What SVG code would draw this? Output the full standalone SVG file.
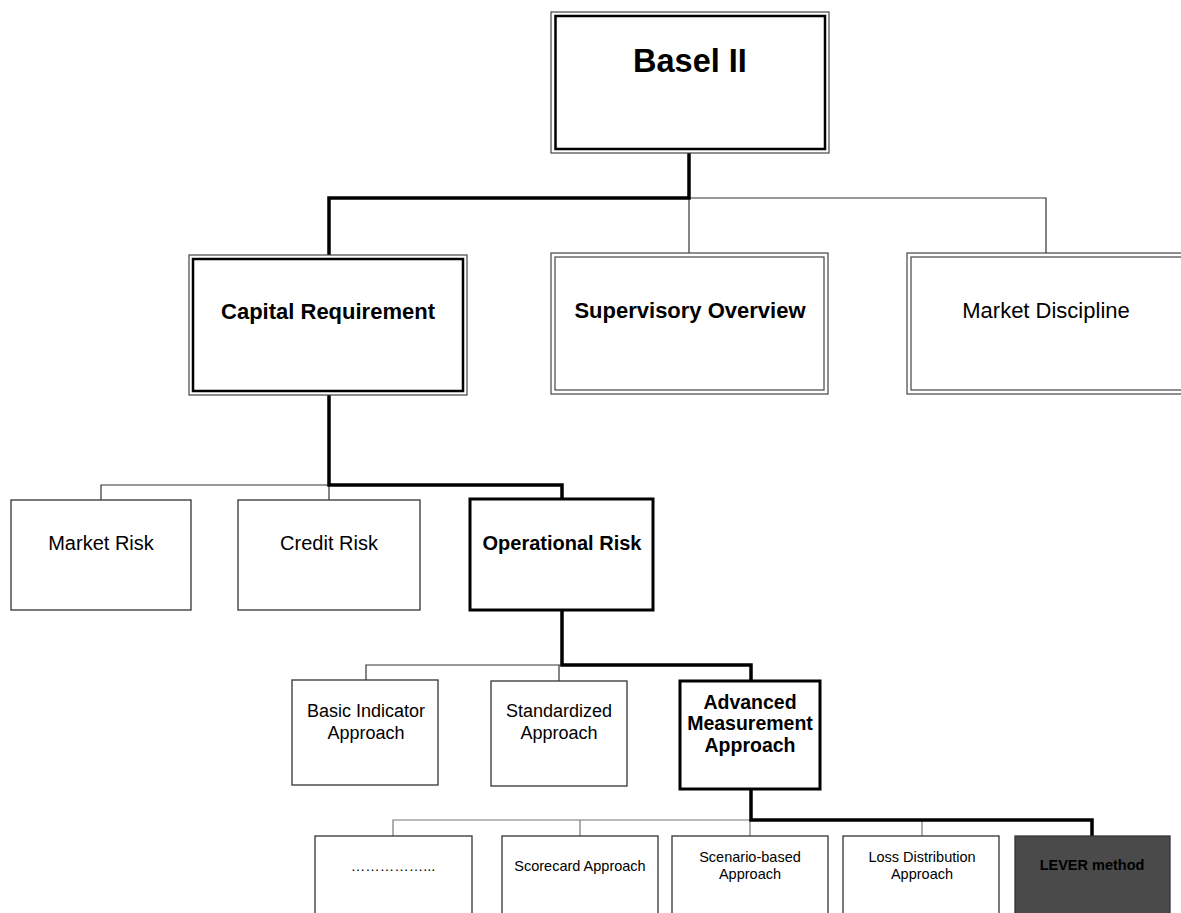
<svg xmlns="http://www.w3.org/2000/svg" width="1181" height="913" viewBox="0 0 1181 913">
<style>
text{font-family:"Liberation Sans",Arial,sans-serif;fill:#000;text-anchor:middle}
.b{font-weight:bold}
.thin{fill:#fff;stroke:#333;stroke-width:1.3}
.thick{fill:#fff;stroke:#000;stroke-width:3}
.outer{fill:#fff;stroke:#444;stroke-width:1.2}
.innerK{fill:none;stroke:#000;stroke-width:2.5}
.innerG{fill:none;stroke:#444;stroke-width:1.2}
.c1{fill:none;stroke:#000;stroke-width:3.5}
.c0{fill:none;stroke:#333;stroke-width:1.2}
.c2{fill:none;stroke:#777;stroke-width:1.2}
</style>
<rect width="1181" height="913" fill="#fff"/>
<g id="connectors">
<polyline class="c0" points="689,198 1046,198 1046,253"/>
<line class="c0" x1="689" y1="198" x2="689" y2="253"/>
<polyline class="c1" points="689,153 689,198 329,198 329,256"/>
<polyline class="c0" points="329,485 101,485 101,500"/>
<line class="c0" x1="329" y1="485" x2="329" y2="500"/>
<polyline class="c1" points="329,395 329,485 562,485 562,499"/>
<polyline class="c0" points="562,665 366,665 366,680"/>
<line class="c0" x1="559" y1="665" x2="559" y2="681"/>
<polyline class="c1" points="562,610 562,665 751,665 751,681"/>
<polyline class="c2" points="751,820 393,820 393,836"/>
<line class="c2" x1="580" y1="820" x2="580" y2="836"/>
<line class="c2" x1="750" y1="820" x2="750" y2="836"/>
<line class="c2" x1="922" y1="820" x2="922" y2="836"/>
<polyline class="c1" points="751,789 751,820 1092,820 1092,836"/>
</g>
<g id="basel">
<rect class="outer" x="551" y="12" width="278" height="141"/>
<rect class="innerK" x="555.5" y="16" width="269.5" height="133"/>
<text class="b" x="690" y="72" font-size="32.5">Basel II</text>
</g>
<g id="capital">
<rect class="outer" x="189" y="255" width="278" height="140"/>
<rect class="innerK" x="193" y="259" width="270" height="132"/>
<text class="b" x="328" y="319" font-size="22">Capital Requirement</text>
</g>
<g id="supervisory">
<rect class="outer" x="551" y="253" width="277" height="141"/>
<rect class="innerG" x="555" y="257" width="269" height="133"/>
<text class="b" x="690" y="318" font-size="22">Supervisory Overview</text>
</g>
<g id="market-discipline">
<rect class="outer" x="907" y="253" width="290" height="141"/>
<rect class="innerG" x="911" y="257" width="282" height="133"/>
<text x="1046" y="318" font-size="22">Market Discipline</text>
</g>
<g id="market-risk">
<rect class="thin" x="11" y="500" width="180" height="110"/>
<text x="101" y="550" font-size="20">Market Risk</text>
</g>
<g id="credit-risk">
<rect class="thin" x="238" y="500" width="182" height="110"/>
<text x="329" y="550" font-size="20">Credit Risk</text>
</g>
<g id="operational-risk">
<rect class="thick" x="470" y="499" width="183" height="111"/>
<text class="b" x="562" y="550" font-size="20">Operational Risk</text>
</g>
<g id="basic-indicator">
<rect class="thin" x="292" y="680" width="146" height="105"/>
<text x="366" y="717" font-size="18">Basic Indicator</text>
<text x="366" y="739" font-size="18">Approach</text>
</g>
<g id="standardized">
<rect class="thin" x="491" y="681" width="136" height="105"/>
<text x="559" y="717" font-size="18">Standardized</text>
<text x="559" y="739" font-size="18">Approach</text>
</g>
<g id="ama">
<rect class="thick" x="680" y="681" width="140" height="108"/>
<text class="b" x="750" y="709" font-size="19.5">Advanced</text>
<text class="b" x="750" y="730" font-size="19.5">Measurement</text>
<text class="b" x="750" y="752" font-size="19.5">Approach</text>
</g>
<g id="dots">
<rect class="thin" x="315" y="836" width="157" height="100"/>
<text x="393" y="871" font-size="14.5">……………...</text>
</g>
<g id="scorecard">
<rect class="thin" x="502" y="836" width="156" height="100"/>
<text x="580" y="871" font-size="14.5">Scorecard Approach</text>
</g>
<g id="scenario">
<rect class="thin" x="672" y="836" width="156" height="100"/>
<text x="750" y="862" font-size="14.5">Scenario-based</text>
<text x="750" y="879" font-size="14.5">Approach</text>
</g>
<g id="loss-distribution">
<rect class="thin" x="843" y="836" width="156" height="100"/>
<text x="922" y="862" font-size="14.5">Loss Distribution</text>
<text x="922" y="879" font-size="14.5">Approach</text>
</g>
<g id="lever">
<rect x="1015" y="836" width="155" height="100" fill="#4a4a4a" stroke="#333" stroke-width="1.3"/>
<text class="b" x="1092" y="870" font-size="14.5">LEVER method</text>
</g>
</svg>
